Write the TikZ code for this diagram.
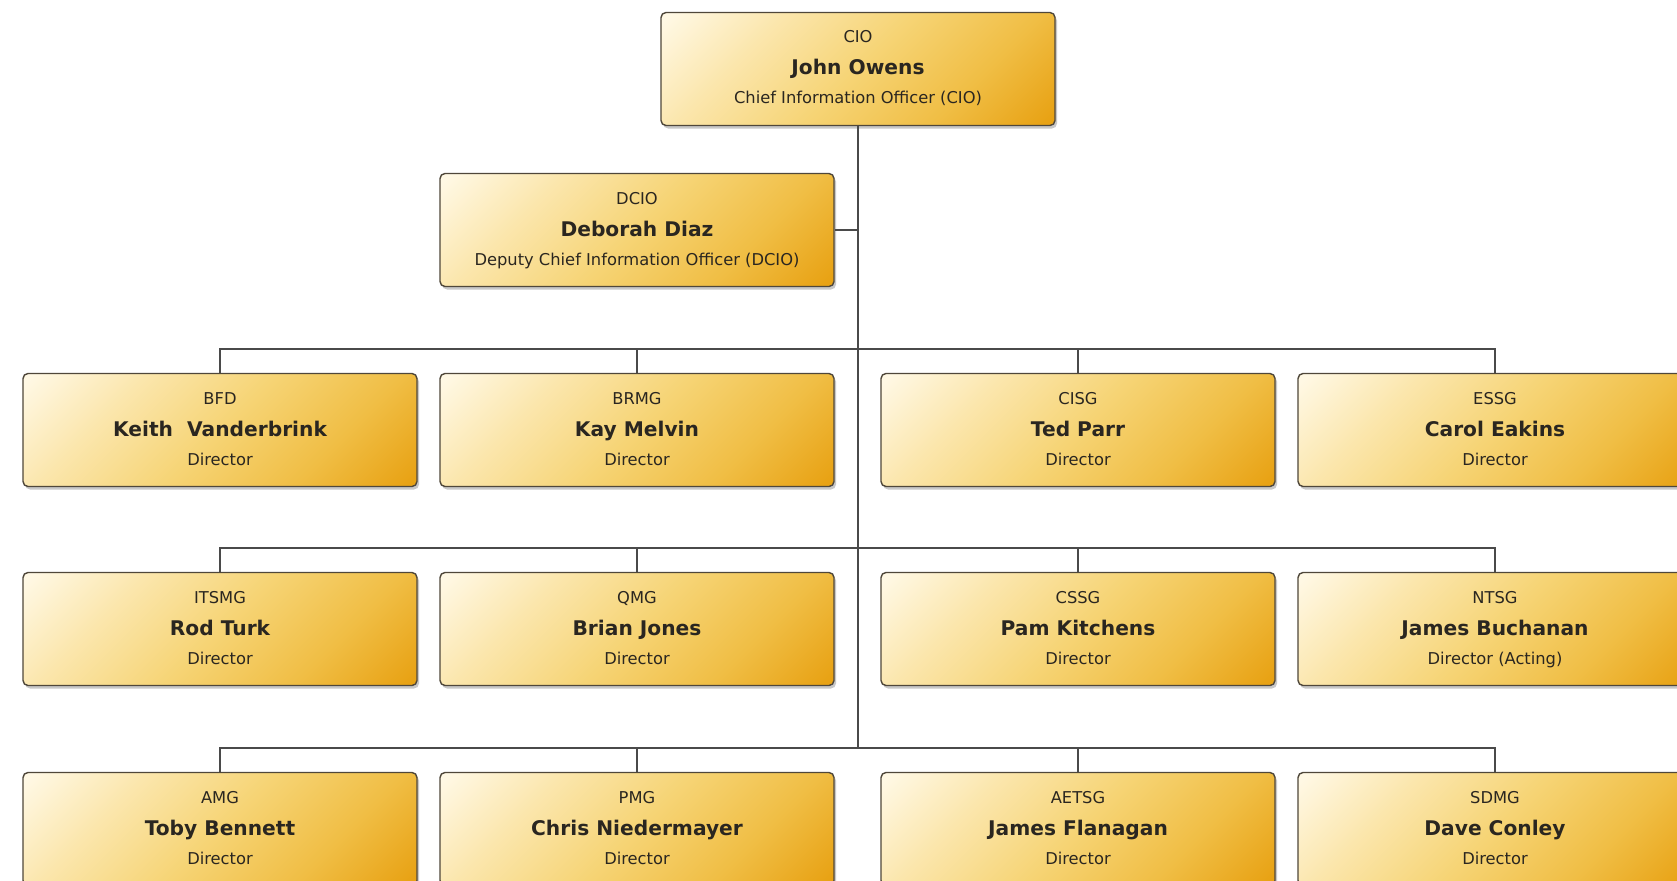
\documentclass[tikz,border=0pt]{standalone}
\usepackage{fontspec}
\setmainfont{DejaVu Sans}
\usetikzlibrary{calc,shadows}
\definecolor{goldlight}{HTML}{FFF8E4}
\definecolor{goldlight2}{HTML}{FBE6AC}
\definecolor{goldmid}{HTML}{F6D475}
\definecolor{goldmid2}{HTML}{F0BE45}
\definecolor{golddark}{HTML}{E8A214}
\definecolor{boxline}{HTML}{4F473A}
\definecolor{linec}{HTML}{4A4A4A}
\definecolor{txt}{HTML}{2A2620}
\pgfdeclareverticalshading{goldsh}{100bp}{color(0bp)=(golddark); color(16bp)=(golddark); color(32bp)=(goldmid2); color(50bp)=(goldmid); color(68bp)=(goldlight2); color(84bp)=(goldlight); color(100bp)=(goldlight)}
\tikzset{
  orgbox/.style={draw=boxline, line width=1.4pt, rounded corners=5pt,
    minimum width=394pt, minimum height=113pt, inner sep=0pt,
    shade, shading=goldsh, shading angle=45,
    drop shadow={shadow xshift=2pt, shadow yshift=-3pt, opacity=0.3, fill=black!70}},
  acrtext/.style={inner sep=0pt, anchor=base, text=txt, font=\fontsize{16.3}{19}\selectfont},
  nametext/.style={inner sep=0pt, anchor=base, text=txt, font=\bfseries\fontsize{20.2}{23}\selectfont},
  titletext/.style={inner sep=0pt, anchor=base, text=txt, font=\fontsize{16.3}{19}\selectfont},
  link/.style={draw=linec, line width=1.5pt}
}
\newcommand\orgunit[6]{%
  \node[orgbox] (#1) at (#2,#3) {};
  \node[acrtext] (#1-a) at ($(#1.center)+(0,-26)$) {#4};
  \node[nametext] (#1-n) at ($(#1.center)+(0,6)$) {#5};
  \node[titletext] (#1-t) at ($(#1.center)+(0,35)$) {#6};
}
\begin{document}
\begin{tikzpicture}[x=1pt,y=-1pt]
\useasboundingbox (0,0) rectangle (1677,880);
\fill[white] (0,0) rectangle (1677,880);
\clip (0,0) rectangle (1677,880);

\orgunit{cio}{858}{69}{CIO}{John Owens}{Chief Information Officer (CIO)}
\orgunit{dcio}{637}{230}{DCIO}{Deborah Diaz}{Deputy Chief Information Officer (DCIO)}

\orgunit{bfd}{220}{430}{BFD}{Keith\ \ Vanderbrink}{Director}
\orgunit{brmg}{637}{430}{BRMG}{Kay Melvin}{Director}
\orgunit{cisg}{1078}{430}{CISG}{Ted Parr}{Director}
\orgunit{essg}{1495}{430}{ESSG}{Carol Eakins}{Director}

\orgunit{itsmg}{220}{629}{ITSMG}{Rod Turk}{Director}
\orgunit{qmg}{637}{629}{QMG}{Brian Jones}{Director}
\orgunit{cssg}{1078}{629}{CSSG}{Pam Kitchens}{Director}
\orgunit{ntsg}{1495}{629}{NTSG}{James Buchanan}{Director (Acting)}

\orgunit{amg}{220}{829}{AMG}{Toby Bennett}{Director}
\orgunit{pmg}{637}{829}{PMG}{Chris Niedermayer}{Director}
\orgunit{aetsg}{1078}{829}{AETSG}{James Flanagan}{Director}
\orgunit{sdmg}{1495}{829}{SDMG}{Dave Conley}{Director}

\coordinate (bar1) at (858,349);
\coordinate (bar2) at (858,548);
\coordinate (bar3) at (858,748);

\draw[link] (cio.south) -- (bar3);
\draw[link] (dcio.east) -- (dcio.east -| bar1);

\draw[link] (bfd.north) |- (bar1) -| (essg.north);
\draw[link] (brmg.north) -- (brmg.north |- bar1);
\draw[link] (cisg.north) -- (cisg.north |- bar1);

\draw[link] (itsmg.north) |- (bar2) -| (ntsg.north);
\draw[link] (qmg.north) -- (qmg.north |- bar2);
\draw[link] (cssg.north) -- (cssg.north |- bar2);

\draw[link] (amg.north) |- (bar3) -| (sdmg.north);
\draw[link] (pmg.north) -- (pmg.north |- bar3);
\draw[link] (aetsg.north) -- (aetsg.north |- bar3);
\end{tikzpicture}
\end{document}
